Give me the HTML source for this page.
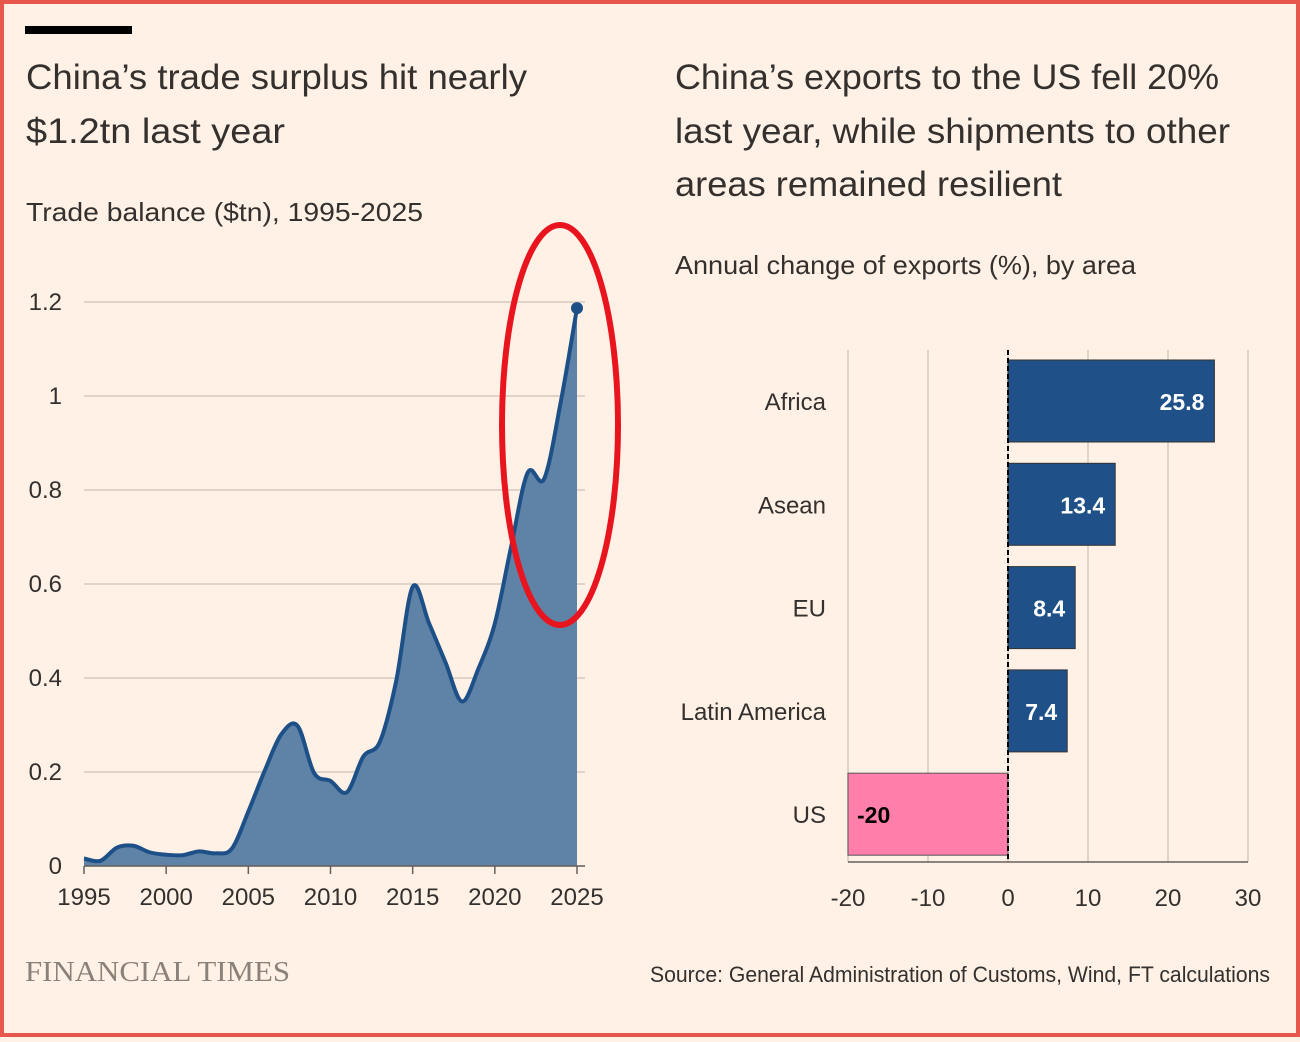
<!DOCTYPE html>
<html><head><meta charset="utf-8"><style>
html,body{margin:0;padding:0;background:#fff1e5;}
body{width:1300px;height:1037px;overflow:hidden;font-family:"Liberation Sans",sans-serif;}
</style></head><body>
<svg id="s" width="1300" height="1037" viewBox="0 0 1300 1037" xmlns="http://www.w3.org/2000/svg" font-family="Liberation Sans, sans-serif">
<rect x="2" y="2" width="1296" height="1033" fill="#fff1e5" stroke="#e8574b" stroke-width="4"/>
<rect x="25" y="26" width="107" height="8" fill="#000"/>
<text x="26" y="89" font-size="35" fill="#33302e" textLength="501" lengthAdjust="spacingAndGlyphs">China’s trade surplus hit nearly</text>
<text x="26" y="143" font-size="35" fill="#33302e" textLength="259" lengthAdjust="spacingAndGlyphs">$1.2tn last year</text>
<text x="26" y="221" font-size="26" fill="#33302e" textLength="397" lengthAdjust="spacingAndGlyphs">Trade balance ($tn), 1995-2025</text>
<text x="675" y="89" font-size="35" fill="#33302e" textLength="544" lengthAdjust="spacingAndGlyphs">China’s exports to the US fell 20%</text>
<text x="675" y="143" font-size="35" fill="#33302e" textLength="555" lengthAdjust="spacingAndGlyphs">last year, while shipments to other</text>
<text x="675" y="196" font-size="35" fill="#33302e" textLength="387" lengthAdjust="spacingAndGlyphs">areas remained resilient</text>
<text x="675" y="274" font-size="26" fill="#33302e" textLength="461" lengthAdjust="spacingAndGlyphs">Annual change of exports (%), by area</text>
<text x="25" y="981" font-size="29" fill="#8a817a" font-family="Liberation Serif, serif" textLength="265" lengthAdjust="spacingAndGlyphs">FINANCIAL TIMES</text>
<text x="1270" y="982" font-size="22" fill="#33302e" text-anchor="end" textLength="620" lengthAdjust="spacingAndGlyphs">Source: General Administration of Customs, Wind, FT calculations</text>
<g id="left"></g><g id="right"></g>
<ellipse cx="560" cy="425" rx="58" ry="200" fill="none" stroke="#e8141e" stroke-width="6"/>
</svg>
<script>
const years=[1995,1996,1997,1998,1999,2000,2001,2002,2003,2004,2005,2006,2007,2008,2009,2010,2011,2012,2013,2014,2015,2016,2017,2018,2019,2020,2021,2022,2023,2024,2025];
const balance=[0.016,0.011,0.039,0.043,0.029,0.024,0.023,0.031,0.027,0.037,0.116,0.203,0.28,0.298,0.198,0.181,0.157,0.233,0.264,0.394,0.594,0.516,0.433,0.35,0.42,0.516,0.681,0.837,0.824,0.985,1.187];
const yTicks=[0,0.2,0.4,0.6,0.8,1,1.2];
const xTicks=[1995,2000,2005,2010,2015,2020,2025];
const areas=["Africa","Asean","EU","Latin America","US"];
const changes=[25.8,13.4,8.4,7.4,-20];
const cTicks=[-20,-10,0,10,20,30];
const NS="http://www.w3.org/2000/svg";
function mk(p,t,a){const e=document.createElementNS(NS,t);for(const k in a)e.setAttribute(k,a[k]);p.appendChild(e);return e;}
const L=document.getElementById('left'),R=document.getElementById('right');
const xs=y=>84+(y-1995)/30*493, ys=v=>866-v/1.2*564;
yTicks.forEach(t=>{
 const g=mk(L,'line',{x1:84,x2:585,y1:ys(t),y2:ys(t),stroke:'#d4cbc1','stroke-width':1.5});
 
 
 const tx=mk(L,'text',{x:62,y:ys(t)+8,'font-size':24,fill:'#33302e','text-anchor':'end'});tx.textContent=t;
 
 
});
xTicks.forEach(t=>{
 const l=mk(L,'line',{x1:xs(t),x2:xs(t),y1:866,y2:874,stroke:'#66605c','stroke-width':1.5});
 
 
 const tx=mk(L,'text',{x:xs(t),y:905,'font-size':24,fill:'#33302e','text-anchor':'middle'});tx.textContent=t;
 
 
});
const pts=years.map((y,i)=>[xs(y),ys(balance[i])]);
let d='M'+pts[0][0]+','+pts[0][1];
for(let i=0;i<pts.length-1;i++){const p0=pts[Math.max(0,i-1)],p1=pts[i],p2=pts[i+1],p3=pts[Math.min(pts.length-1,i+2)];
 const c1=[p1[0]+(p2[0]-p0[0])/6,p1[1]+(p2[1]-p0[1])/6],c2=[p2[0]-(p3[0]-p1[0])/6,p2[1]-(p3[1]-p1[1])/6];
 d+=` C${c1[0]},${c1[1]} ${c2[0]},${c2[1]} ${p2[0]},${p2[1]}`;}
const area=mk(L,'path',{d:d+` L${xs(2025)},866 L${xs(1995)},866 Z`,fill:'#5f82a7'});


const ax=mk(L,'line',{x1:84,x2:585,y1:866,y2:866,stroke:'#66605c','stroke-width':1.5});


const line=mk(L,'path',{d:d,fill:'none',stroke:'#1e5088','stroke-width':4});


const last=pts[pts.length-1];
const dot=mk(L,'circle',{cx:last[0],cy:last[1],r:6,fill:'#1e5088'});


const cx=v=>1008+v*8;
cTicks.forEach(t=>{
 const l=mk(R,'line',{x1:cx(t),x2:cx(t),y1:350,y2:862,stroke:'#d4cbc1','stroke-width':1.5});
 
 
 const tx=mk(R,'text',{x:cx(t),y:906,'font-size':24,fill:'#33302e','text-anchor':'middle'});tx.textContent=t;
 
 
});
const ax2=mk(R,'line',{x1:cx(-20),x2:cx(30),y1:862,y2:862,stroke:'#66605c','stroke-width':1.5});


areas.forEach((a,i)=>{
 const v=changes[i],top=360+i*103.3,h=82;
 const x0=Math.min(cx(0),cx(v)),w=Math.abs(cx(v)-cx(0));
 const r=mk(R,'rect',{x:x0,y:top,width:w,height:h,fill:v<0?'#ff7faa':'#1f5188',stroke:v<0?'#555':'#333','stroke-width':1});
 
 
 const lb=mk(R,'text',{x:826,y:top+h/2+9,'font-size':24,fill:'#33302e','text-anchor':'end'});lb.textContent=a;
 
 
 const vl=mk(R,'text',{x:v<0?x0+9:x0+w-10,y:top+h/2+9,'font-size':23,'font-weight':'bold',fill:v<0?'#000':'#fff','text-anchor':v<0?'start':'end'});vl.textContent=v;
 
 
});
const z=mk(R,'line',{x1:cx(0),x2:cx(0),y1:350,y2:862,stroke:'#000','stroke-width':2,'stroke-dasharray':'5,3'});


</script>
</body></html>
